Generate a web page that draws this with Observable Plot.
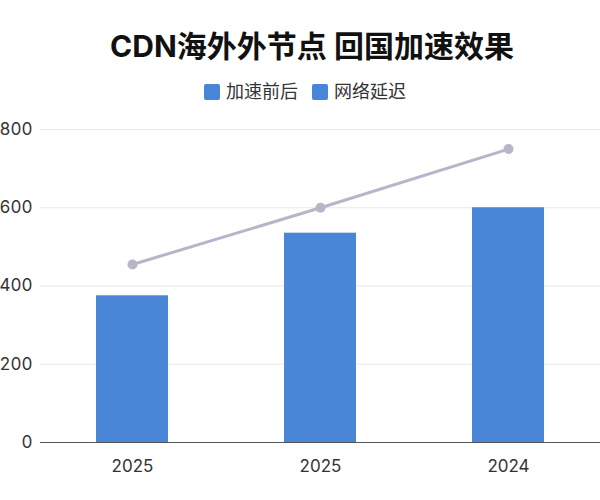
<!DOCTYPE html>
<html>
<head>
<meta charset="utf-8">
<script src="https://cdn.jsdelivr.net/npm/d3@7"></script>
<script src="https://cdn.jsdelivr.net/npm/@observablehq/plot@0.6"></script>
<style>
  body { margin: 0; background: #fff; font-family: "Inter", "Noto Sans CJK SC", sans-serif; width: 600px; overflow: hidden; }
  #title { padding-top: 29px; height: 34px; line-height: 34px; font-size: 30px; font-weight: 700; text-align: center; color: #111; padding-left: 24px; }
  #legend { margin-top: 19px; height: 20px; line-height: 20px; font-size: 18px; color: #333; display: flex; justify-content: center; gap: 14px; padding-left: 10px; }
  #legend span.item { display: flex; align-items: center; }
  #legend span.sw { width: 16px; height: 16px; border-radius: 2px; margin-right: 6px; display: inline-block; }
</style>
</head>
<body>
<div id="title"></div>
<div id="legend"></div>
<div id="chart"></div>
<script>
const titleText = "CDN海外外节点 回国加速效果";
const seriesNames = ["加速前后", "网络延迟"];
const years = ["2025", "2025", "2024"];
const barValues = [375, 535, 600];
const lineValues = [455, 600, 750];
const yTicks = [0, 200, 400, 600, 800];

const barColor = "#4a86d8";
const lineColor = "#bab3c9";

document.getElementById("title").textContent = titleText;
const legend = document.getElementById("legend");
seriesNames.forEach(name => {
  const item = document.createElement("span");
  item.className = "item";
  const sw = document.createElement("span");
  sw.className = "sw";
  sw.style.background = barColor;
  item.appendChild(sw);
  item.appendChild(document.createTextNode(name));
  legend.appendChild(item);
});

const idx = years.map((_, i) => i);
const bars = idx.map(i => ({i, v: barValues[i]}));
const pts = idx.map(i => ({i, v: lineValues[i]}));

const chart = Plot.plot({
  width: 600,
  height: 398,
  marginTop: 27,
  marginBottom: 58,
  marginLeft: 40,
  marginRight: 0,
  style: {fontFamily: "Inter, 'Noto Sans CJK SC', sans-serif", fontSize: "17px", color: "#333", background: "#fff"},
  x: {type: "band", domain: idx, paddingInner: 0.615, paddingOuter: 0.29, tickFormat: i => years[i], label: null, tickSize: 0, tickPadding: 17},
  y: {domain: [0, 800], ticks: yTicks, label: null, tickSize: 0, tickPadding: 8},
  marks: [
    Plot.ruleY(yTicks.filter(t => t > 0), {stroke: "#e8e8e8", strokeWidth: 1}),
    Plot.barY(bars, {x: "i", y: "v", fill: barColor}),
    Plot.ruleY([0], {stroke: "#555", strokeWidth: 1.2}),
    Plot.line(pts, {x: "i", y: "v", stroke: lineColor, strokeWidth: 3}),
    Plot.dot(pts, {x: "i", y: "v", fill: lineColor, r: 5})
  ]
});
document.getElementById("chart").appendChild(chart);
</script>
</body>
</html>
